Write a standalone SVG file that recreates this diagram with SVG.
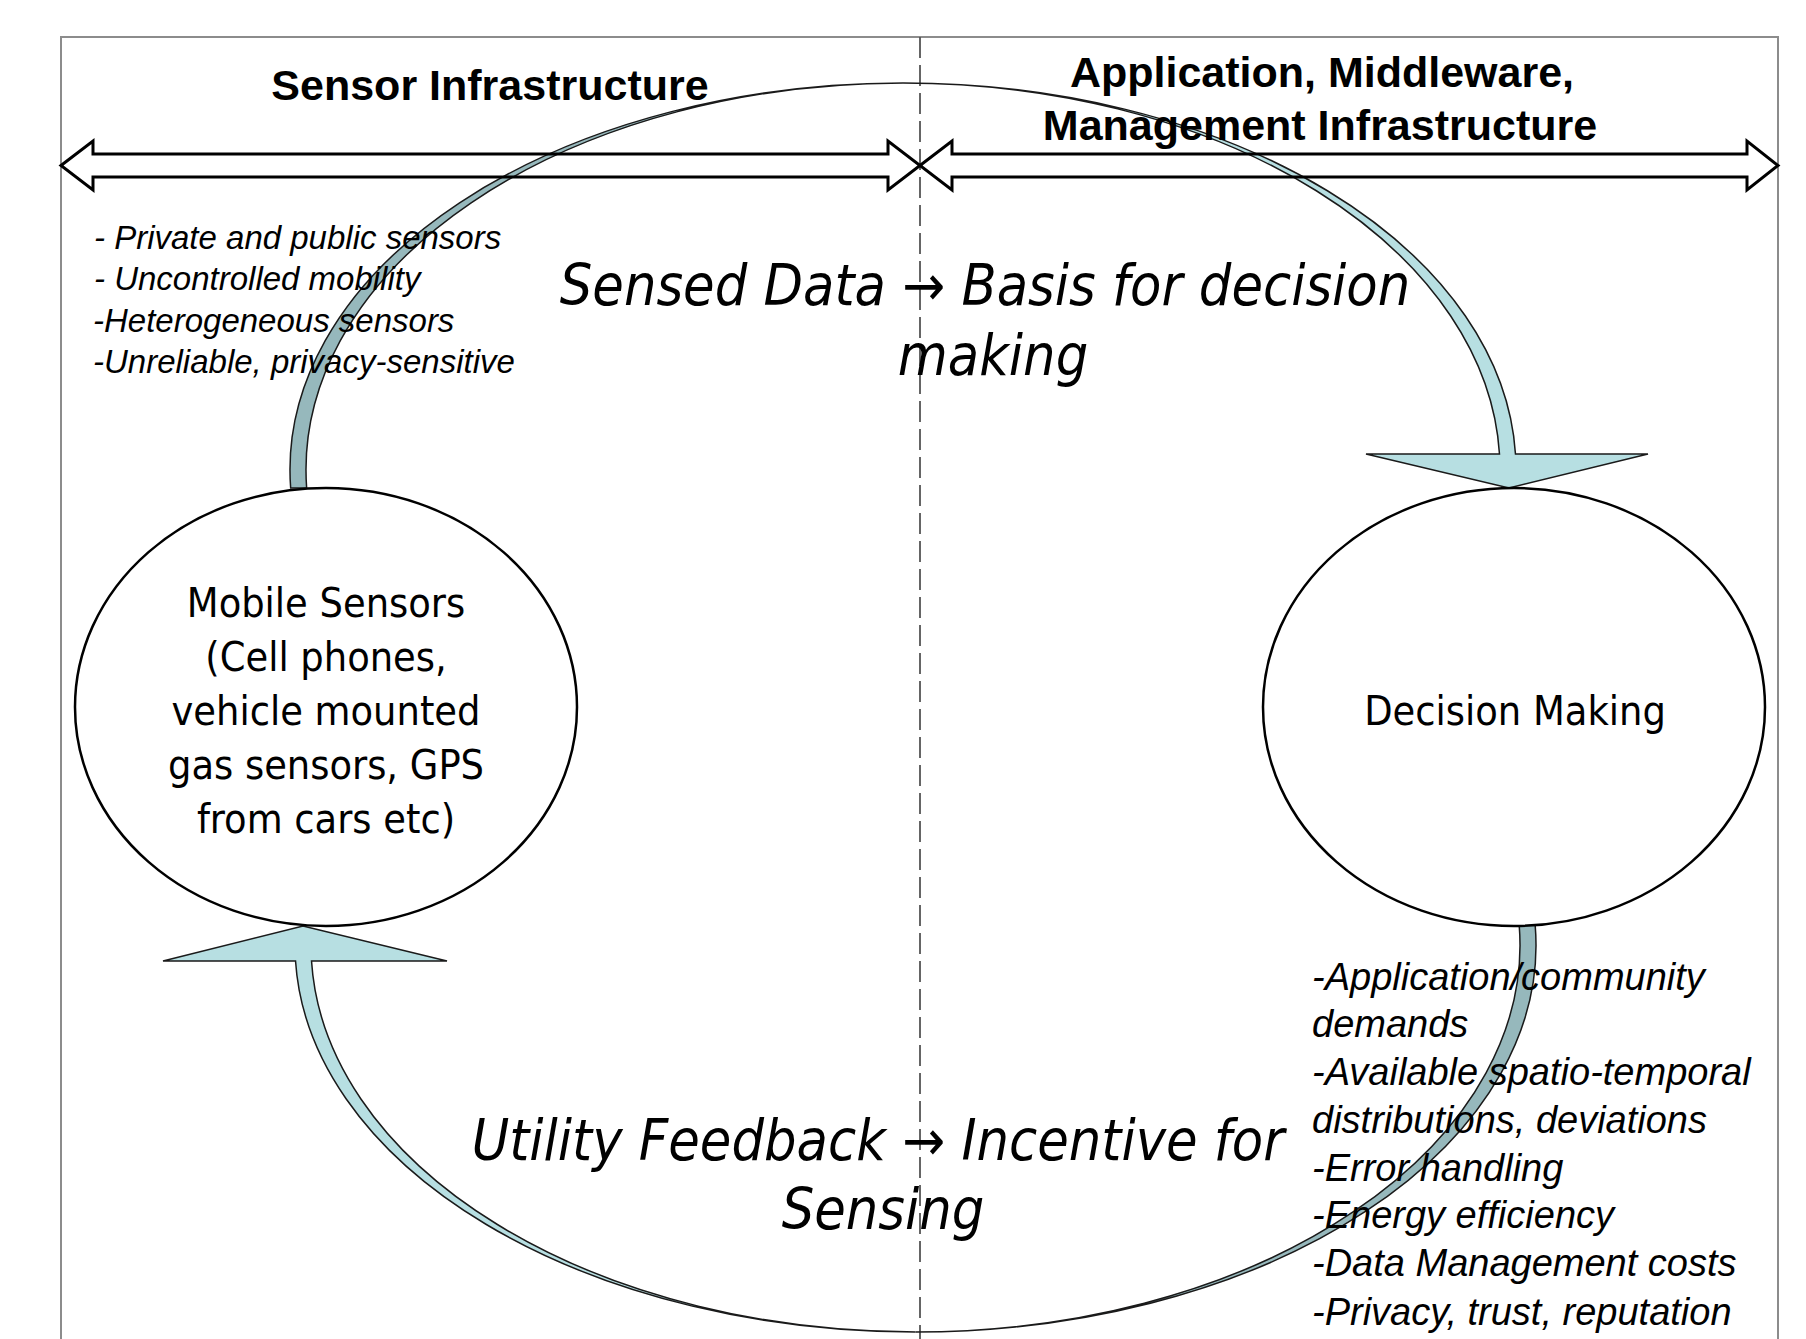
<svg xmlns="http://www.w3.org/2000/svg" width="1806" height="1339" viewBox="0 0 1806 1339">
  <style>
    .frame { fill: none; stroke: #8c8c8c; stroke-width: 2; }
    .divider { fill: none; stroke: #555; stroke-width: 1.8; stroke-dasharray: 21 7; }
    .band { stroke: #1a1a1a; stroke-width: 1.5; stroke-linejoin: miter; }
    .light { fill: #b7dfe2; }
    .dark { fill: #96b8bc; }
    .node { fill: #ffffff; stroke: #000; stroke-width: 2.5; }
    .dbl { fill: none; stroke: #000; stroke-width: 3; stroke-linejoin: miter; }
    .hdr { font-family: "Liberation Sans", Arial, sans-serif; font-weight: bold; font-size: 43px; fill: #000; text-anchor: middle; }
    .lbl { font-family: "DejaVu Sans Condensed", "DejaVu Sans", "Liberation Sans", sans-serif; font-stretch: condensed; font-size: 41px; fill: #000; text-anchor: middle; }
    .big { font-family: "DejaVu Sans Condensed", "DejaVu Sans", "Liberation Sans", sans-serif; font-stretch: condensed; font-style: italic; font-size: 57px; fill: #000; text-anchor: middle; }
    .lst1 { font-family: "Liberation Sans", Arial, sans-serif; font-style: italic; font-size: 33px; fill: #000; }
    .lst2 { font-family: "Liberation Sans", Arial, sans-serif; font-style: italic; font-size: 38px; fill: #000; }
  </style>

  <rect x="0" y="0" width="1806" height="1339" fill="#ffffff"/>

  <g id="frame">
    <rect class="frame" x="61" y="37" width="1717" height="1330"/>
    <line class="divider" x1="920" y1="37" x2="920" y2="1339"/>
  </g>

  <g id="connectors">
    <g id="arc-sensed-data">
      <path class="band dark" d="M 290.66,488 A 613 387 0 0 1 903,83 A 597 387 0 0 0 306.65,488 Z"/>
      <path class="band light" d="M 903,83 A 613 387 0 0 1 1515.48,454 L 1648,454 L 1509,488 L 1366,454 L 1499.49,454 A 597 387 0 0 0 903,83 Z"/>
    </g>
    <g id="arc-utility-feedback">
      <path class="band light" d="M 915.5,1332 A 620.5 387 0 0 1 295.53,961 L 163,961 L 303,926 L 447,961 L 311.52,961 A 604.5 387 0 0 0 915.5,1332 Z"/>
      <path class="band dark" d="M 915.5,1332 A 620.5 387 0 0 0 1535.17,925 L 1519.19,925 A 604.5 387 0 0 1 915.5,1332 Z"/>
    </g>
  </g>

  <g id="node-mobile-sensors">
    <ellipse class="node" cx="326" cy="707" rx="251" ry="219"/>
    <text class="lbl" x="326" y="617">Mobile Sensors</text>
    <text class="lbl" x="326" y="671">(Cell phones,</text>
    <text class="lbl" x="326" y="725">vehicle mounted</text>
    <text class="lbl" x="326" y="779">gas sensors, GPS</text>
    <text class="lbl" x="326" y="833">from cars etc)</text>
  </g>

  <g id="node-decision-making">
    <ellipse class="node" cx="1514" cy="707" rx="251" ry="219"/>
    <text class="lbl" x="1515" y="725">Decision Making</text>
  </g>

  <g id="header-sensor-infrastructure">
    <path class="dbl" d="M 61,165.5 L 93,141 L 93,154 L 888,154 L 888,141 L 920,165.5 L 888,190 L 888,177 L 93,177 L 93,190 Z"/>
    <text class="hdr" x="490" y="100">Sensor Infrastructure</text>
  </g>

  <g id="header-application">
    <path class="dbl" d="M 920,165.5 L 952,141 L 952,154 L 1747,154 L 1747,141 L 1778,165.5 L 1747,190 L 1747,177 L 952,177 L 952,190 Z"/>
    <text class="hdr" x="1322" y="87">Application, Middleware,</text>
    <text class="hdr" x="1320" y="140">Management Infrastructure</text>
  </g>

  <g id="label-sensed-data">
    <text class="big" x="985" y="305">Sensed Data → Basis for decision</text>
    <text class="big" x="993" y="375">making</text>
  </g>

  <g id="label-utility-feedback">
    <text class="big" x="878" y="1160">Utility Feedback → Incentive for</text>
    <text class="big" x="883" y="1229">Sensing</text>
  </g>

  <g id="notes-sensors">
    <text class="lst1" x="94" y="249">- Private and public sensors</text>
    <text class="lst1" x="94" y="290">- Uncontrolled mobility</text>
    <text class="lst1" x="93" y="331.5">-Heterogeneous sensors</text>
    <text class="lst1" x="93" y="373">-Unreliable, privacy-sensitive</text>
  </g>

  <g id="notes-decision">
    <text class="lst2" x="1312" y="990">-Application/community</text>
    <text class="lst2" x="1312" y="1037">demands</text>
    <text class="lst2" x="1312" y="1085">-Available spatio-temporal</text>
    <text class="lst2" x="1312" y="1133">distributions, deviations</text>
    <text class="lst2" x="1312" y="1181">-Error handling</text>
    <text class="lst2" x="1312" y="1228">-Energy efficiency</text>
    <text class="lst2" x="1312" y="1276">-Data Management costs</text>
    <text class="lst2" x="1312" y="1325">-Privacy, trust, reputation</text>
  </g>
</svg>
